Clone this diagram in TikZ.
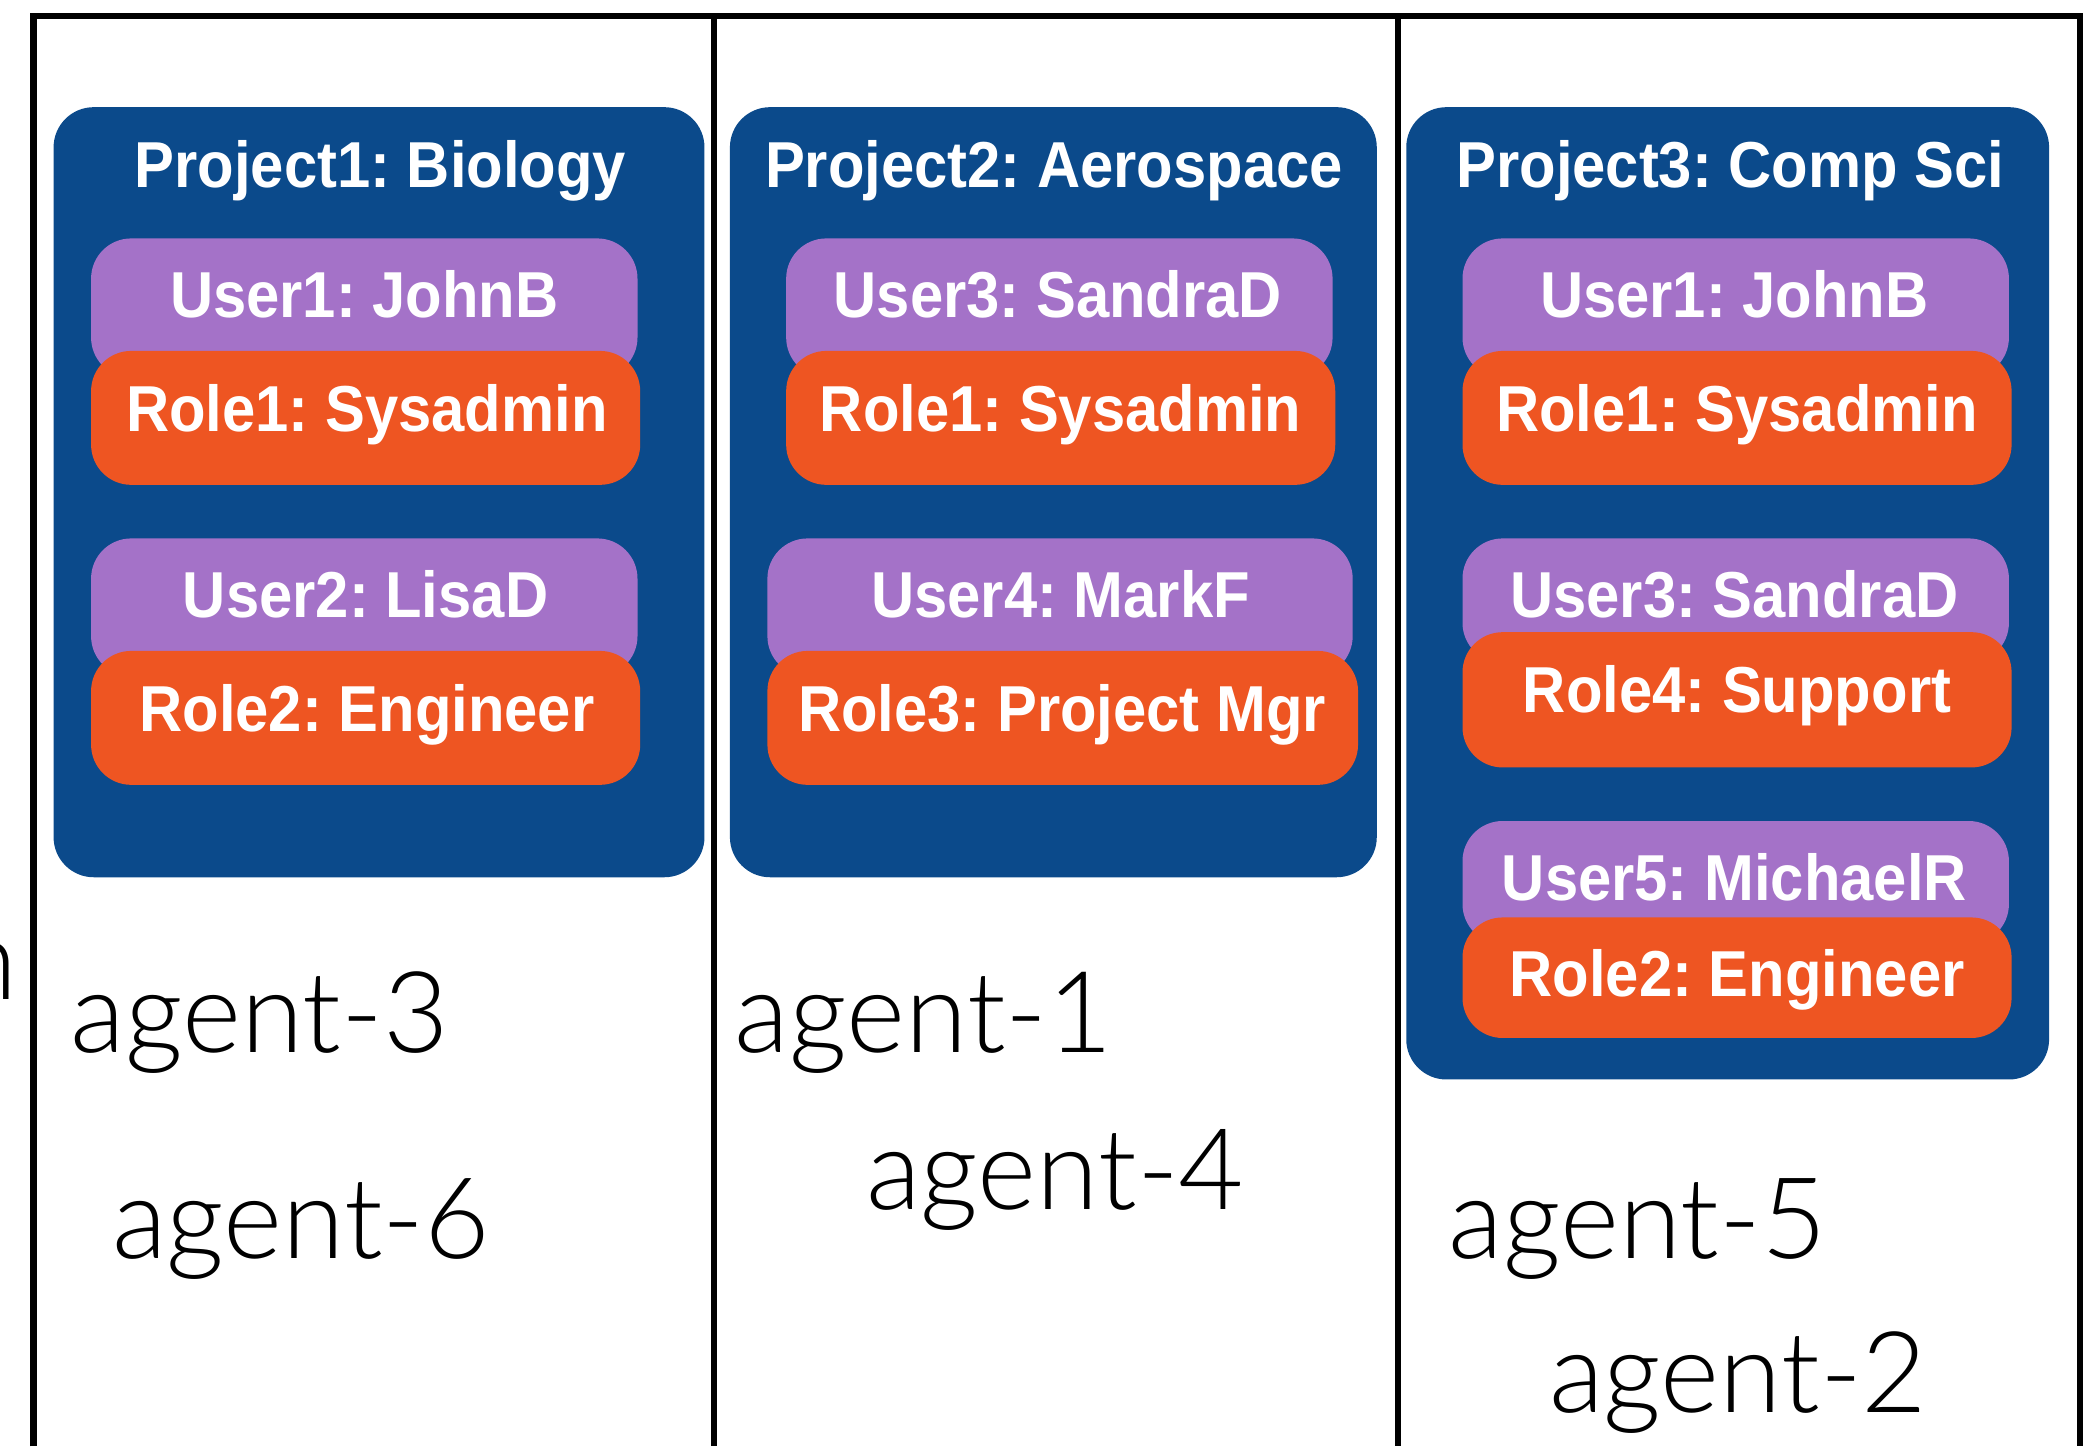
\documentclass[tikz,border=0pt]{standalone}
\usepackage{fontspec}
\setmainfont{Liberation Sans}
\newfontfamily\labelfont{Liberation Sans}[FakeStretch=0.92]
\newfontfamily\agentfont{Lato}[UprightFont={* Light}]
\definecolor{projblue}{HTML}{0B4A8B}
\definecolor{userpurple}{HTML}{A472C8}
\definecolor{roleorange}{HTML}{EE5522}
\frenchspacing
\begin{document}
\begin{tikzpicture}[x=0.1mm,y=-0.1mm,
  boxtext/.style={font=\labelfont\fontsize{13.8pt}{15pt}\selectfont\bfseries, text=white, inner sep=0pt, anchor=base},
  agenttext/.style={font=\agentfont\fontsize{24pt}{26pt}\selectfont, inner sep=0pt, anchor=base west},
  projbox/.style={fill=projblue, rounded corners=3mm},
  userpill/.style={fill=userpurple, rounded corners=3mm},
  rolepill/.style={fill=roleorange, rounded corners=3mm},
  frameline/.style={line width=1.3pt, black}]
\useasboundingbox (0,0) rectangle (1568,1080);
% frame
\draw[frameline] (25,1080) -- (25,12) -- (1553,12) -- (1553,1080);
\draw[frameline] (533,12) -- (533,1080);
\draw[frameline] (1044,12) -- (1044,1080);
% clipped fragment at left edge
\begin{scope}
\clip (0,0) rectangle (20,1080);
\node[agenttext] (frag) at (-34,746) {n};
\end{scope}
% project boxes
\fill[projbox] (40,80) rectangle (526,655);
\fill[projbox] (545,80) rectangle (1028,655);
\fill[projbox] (1050,80) rectangle (1530,806);
\node[boxtext] (p1) at (284,140) {Project1: Biology};
\node[boxtext] (p2) at (787,140) {Project2: Aerospace};
\node[boxtext] (p3) at (1292,140) {Project3: Comp Sci};
% project 1
\fill[userpill] (68,178) rectangle (476,282);
\fill[rolepill] (68,262) rectangle (478,362);
\node[boxtext] (p1u1) at (272,237) {User1: JohnB};
\node[boxtext] (p1r1) at (274,322) {Role1: Sysadmin};
\fill[userpill] (68,402) rectangle (476,505);
\fill[rolepill] (68,486) rectangle (478,586);
\node[boxtext] (p1u2) at (273,461) {User2: LisaD};
\node[boxtext] (p1r2) at (274,546) {Role2: Engineer};
% project 2
\fill[userpill] (587,178) rectangle (995,282);
\fill[rolepill] (587,262) rectangle (997,362);
\node[boxtext] (p2u3) at (790,237) {User3: SandraD};
\node[boxtext] (p2r1) at (792,322) {Role1: Sysadmin};
\fill[userpill] (573,402) rectangle (1010,505);
\fill[rolepill] (573,486) rectangle (1014,586);
\node[boxtext] (p2u4) at (792,461) {User4: MarkF};
\node[boxtext] (p2r3) at (793,546) {Role3: Project Mgr};
% project 3
\fill[userpill] (1092,178) rectangle (1500,282);
\fill[rolepill] (1092,262) rectangle (1502,362);
\node[boxtext] (p3u1) at (1295,237) {User1: JohnB};
\node[boxtext] (p3r1) at (1297,322) {Role1: Sysadmin};
\fill[userpill] (1092,402) rectangle (1500,495);
\fill[rolepill] (1092,472) rectangle (1502,573);
\node[boxtext] (p3u3) at (1295,461) {User3: SandraD};
\node[boxtext] (p3r4) at (1297,532) {Role4: Support};
\fill[userpill] (1092,613) rectangle (1500,705);
\fill[rolepill] (1092,685) rectangle (1502,775);
\node[boxtext] (p3u5) at (1295,672) {User5: MichaelR};
\node[boxtext] (p3r2) at (1297,744) {Role2: Engineer};
% agents
\node[agenttext] (a3) at (52,786) {agent-3};
\node[agenttext] (a6) at (83,940) {agent-6};
\node[agenttext] (a1) at (548,786) {agent-1};
\node[agenttext] (a4) at (646,903) {agent-4};
\node[agenttext] (a5) at (1081,940) {agent-5};
\node[agenttext] (a2) at (1156,1055) {agent-2};
\end{tikzpicture}
\end{document}
